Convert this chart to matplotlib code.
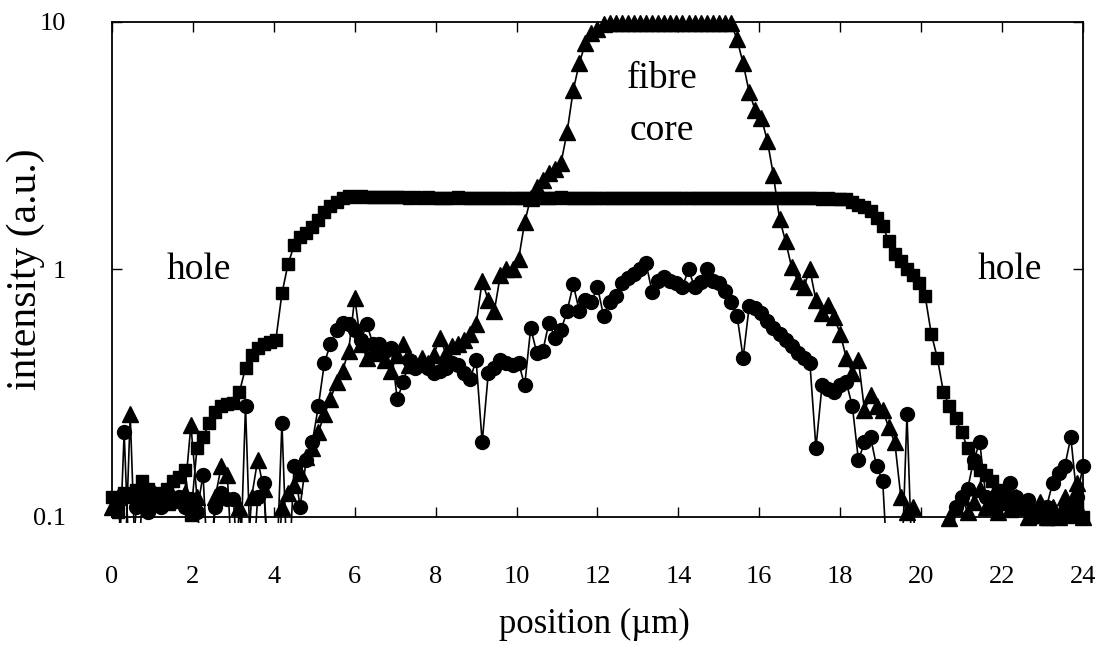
import numpy as np
import matplotlib
matplotlib.use("Agg")
import matplotlib.pyplot as plt
from matplotlib.patches import Rectangle

# sampling positions (µm)
position = np.round(np.arange(0, 24.0001, 0.15), 2)

# intensity (a.u.) – squares (hole / cladding scan)
squares = [
    0.12, 0.105, 0.125, 0.12, 0.128, 0.14, 0.13, 0.125, 0.12, 0.13,
    0.14, 0.145, 0.155, 0.102, 0.19, 0.21, 0.24, 0.265, 0.28, 0.285,
    0.29, 0.32, 0.40, 0.45, 0.48, 0.50, 0.51, 0.52, 0.80, 1.05,
    1.25, 1.35, 1.40, 1.48, 1.58, 1.70, 1.80, 1.88, 1.95, 1.98,
    1.97, 1.98, 1.97, 1.96, 1.97, 1.96, 1.96, 1.97, 1.96, 1.95,
    1.96, 1.95, 1.96, 1.95, 1.95, 1.94, 1.95, 1.96, 1.95, 1.94,
    1.95, 1.94, 1.95, 1.95, 1.94, 1.95, 1.94, 1.95, 1.94, 1.95,
    1.94, 1.95, 1.94, 1.95, 1.96, 1.95, 1.94, 1.95, 1.94, 1.95,
    1.95, 1.94, 1.95, 1.94, 1.95, 1.94, 1.95, 1.94, 1.95, 1.94,
    1.94, 1.95, 1.94, 1.95, 1.94, 1.95, 1.94, 1.94, 1.95, 1.94,
    1.95, 1.94, 1.95, 1.94, 1.95, 1.94, 1.94, 1.95, 1.94, 1.94,
    1.94, 1.95, 1.94, 1.94, 1.95, 1.94, 1.94, 1.93, 1.94, 1.93,
    1.93, 1.92, 1.88, 1.83, 1.78, 1.72, 1.62, 1.50, 1.30, 1.15,
    1.08, 1.00, 0.95, 0.88, 0.78, 0.55, 0.44, 0.32, 0.28, 0.25,
    0.22, 0.19, 0.165, 0.155, 0.148, 0.14, 0.128, 0.12, 0.118, 0.113,
    0.11, 0.108, 0.105, 0.10, 0.098, 0.10, 0.10, 0.105, 0.10, 0.11,
    0.10,
]

# intensity (a.u.) – triangles (fibre core scan); 0.05 = below plotted range
triangles = [
    0.11, 0.12, 0.05, 0.26, 0.05, 0.12, 0.118, 0.125, 0.12, 0.115,
    0.12, 0.118, 0.125, 0.235, 0.12, 0.05, 0.05, 0.12, 0.16, 0.148,
    0.05, 0.11, 0.05, 0.12, 0.17, 0.13, 0.05, 0.05, 0.11, 0.125,
    0.135, 0.15, 0.175, 0.19, 0.22, 0.26, 0.30, 0.35, 0.39, 0.47,
    0.77, 0.50, 0.44, 0.46, 0.47, 0.43, 0.39, 0.45, 0.50, 0.41,
    0.42, 0.44, 0.42, 0.45, 0.53, 0.46, 0.49, 0.50, 0.52, 0.55,
    0.60, 0.90, 0.75, 0.68, 0.95, 1.00, 1.00, 1.10, 1.55, 1.95,
    2.15, 2.30, 2.45, 2.55, 2.70, 3.60, 5.30, 6.80, 8.20, 9.00,
    9.40, 9.80, 9.90, 9.90, 9.90, 9.90, 9.90, 9.90, 9.90, 9.90,
    9.90, 9.90, 9.90, 9.90, 9.90, 9.90, 9.90, 9.90, 9.90, 9.90,
    9.90, 9.90, 9.90, 8.50, 6.80, 5.20, 4.40, 4.10, 3.30, 2.40,
    1.60, 1.30, 1.02, 0.90, 0.85, 1.00, 0.75, 0.67, 0.72, 0.64,
    0.55, 0.44, 0.38, 0.43, 0.27, 0.31, 0.28, 0.27, 0.23, 0.20,
    0.12, 0.105, 0.11, 0.05, 0.05, 0.05, 0.05, 0.05, 0.099, 0.11,
    0.12, 0.105, 0.115, 0.13, 0.11, 0.12, 0.105, 0.115, 0.108, 0.12,
    0.11, 0.10, 0.105, 0.115, 0.10, 0.11, 0.10, 0.12, 0.108, 0.137,
    0.10,
]

# intensity (a.u.) – circles; 0.05 = below plotted range
circles = [
    0.05, 0.05, 0.22, 0.05, 0.11, 0.12, 0.105, 0.12, 0.11, 0.118,
    0.115, 0.12, 0.11, 0.118, 0.105, 0.148, 0.05, 0.11, 0.125, 0.118,
    0.118, 0.05, 0.28, 0.05, 0.12, 0.137, 0.05, 0.05, 0.24, 0.05,
    0.16, 0.11, 0.17, 0.20, 0.28, 0.42, 0.50, 0.57, 0.61, 0.60,
    0.57, 0.52, 0.60, 0.50, 0.50, 0.47, 0.48, 0.30, 0.35, 0.43,
    0.40, 0.41, 0.40, 0.38, 0.39, 0.40, 0.42, 0.41, 0.38, 0.36,
    0.43, 0.20, 0.38, 0.40, 0.43, 0.42, 0.41, 0.42, 0.34, 0.58,
    0.46, 0.47, 0.61, 0.53, 0.57, 0.68, 0.87, 0.68, 0.75, 0.74,
    0.85, 0.65, 0.74, 0.78, 0.88, 0.92, 0.96, 1.00, 1.06, 0.81,
    0.90, 0.93, 0.90, 0.88, 0.85, 1.00, 0.85, 0.89, 1.00, 0.90,
    0.88, 0.82, 0.74, 0.65, 0.44, 0.71, 0.70, 0.67, 0.62, 0.58,
    0.55, 0.52, 0.49, 0.46, 0.44, 0.42, 0.19, 0.34, 0.33, 0.32,
    0.34, 0.35, 0.28, 0.17, 0.20, 0.21, 0.16, 0.14, 0.05, 0.05,
    0.05, 0.26, 0.05, 0.05, 0.05, 0.05, 0.05, 0.05, 0.05, 0.11,
    0.12, 0.13, 0.17, 0.20, 0.12, 0.11, 0.117, 0.125, 0.137, 0.12,
    0.11, 0.117, 0.10, 0.05, 0.11, 0.137, 0.15, 0.16, 0.21, 0.12,
    0.16,
]

x_ticks = [0, 2, 4, 6, 8, 10, 12, 14, 16, 18, 20, 22, 24]
y_ticks = [0.1, 1, 10]
y_tick_labels = ["0.1", "1", "10"]

FONT = ["Liberation Serif", "DejaVu Serif"]
plt.rcParams["font.family"] = FONT

fig = plt.figure(figsize=(10.95, 6.48), dpi=100)
ax = fig.add_axes([0.1023, 0.2022, 0.8867, 0.7639])

# clip region for connecting lines: axes box plus a few pixels below it
clip_rect = Rectangle((0, -0.013), 1, 1.043, transform=ax.transAxes,
                      facecolor="none", edgecolor="none")
ax.add_patch(clip_rect)

series = [
    (squares, "s", 9.0),
    (triangles, "^", 11.0),
    (circles, "o", 10.0),
]
for vals, mk, ms in series:
    y = np.asarray(vals, dtype=float)
    ln, = ax.plot(position, y, color="black", lw=1.2, zorder=2)
    ln.set_clip_path(clip_rect)
    ym = np.where(y >= 0.097, y, np.nan)
    ax.plot(position, ym, linestyle="none", marker=mk, ms=ms,
            color="black", mec="black", clip_on=False, zorder=3)

ax.set_yscale("log")
ax.set_xlim(0, 24)
ax.set_ylim(0.1, 10)
ax.set_xticks(x_ticks)
ax.set_xticklabels([str(t) for t in x_ticks])
ax.set_yticks(y_ticks)
ax.set_yticklabels(y_tick_labels)
ax.yaxis.set_minor_locator(matplotlib.ticker.NullLocator())

ax.tick_params(axis="x", direction="in", top=True, bottom=True, length=7,
               width=1.0, pad=35, labelsize=19)
ax.tick_params(axis="y", direction="in", left=True, right=True, length=7,
               width=1.0, pad=33, labelsize=19)
for sp in ax.spines.values():
    sp.set_linewidth(1.3)

ax.set_xlabel("position (µm)", fontsize=25)
ax.xaxis.label.set_va("center")
ax.xaxis.set_label_coords(0.497, -0.218)
ax.set_ylabel("intensity (a.u.)", fontsize=30)
ax.yaxis.label.set_va("center")
ax.yaxis.set_label_coords(-0.089, 0.5)

ax.text(2.15, 1.0, "hole", fontsize=27, ha="center", va="center")
ax.text(22.2, 1.0, "hole", fontsize=27, ha="center", va="center")
ax.text(13.6, 5.9, "fibre", fontsize=27, ha="center", va="center")
ax.text(13.6, 3.65, "core", fontsize=27, ha="center", va="center")

fig.savefig("out.png", dpi=100)
